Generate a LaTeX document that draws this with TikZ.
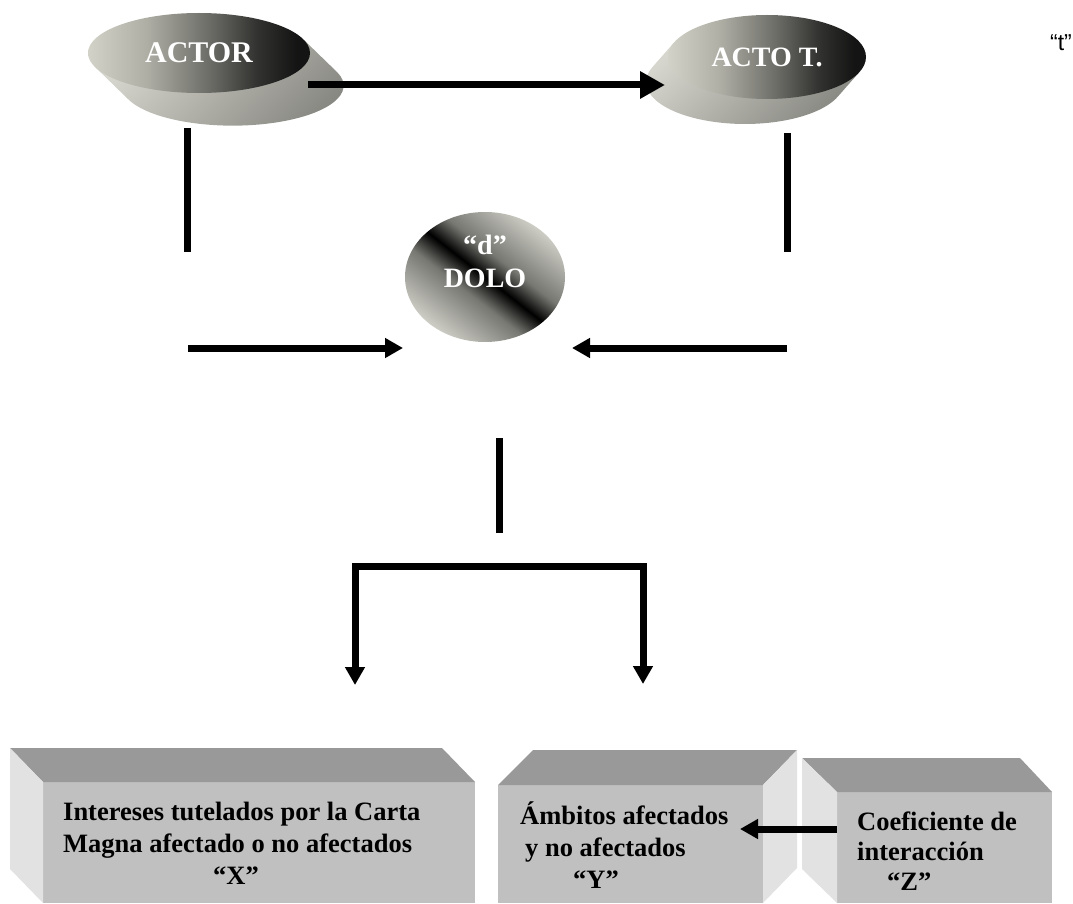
\documentclass[tikz,border=0pt]{standalone}
\usepackage{fontspec}
\setmainfont{Liberation Serif}
\newfontfamily\arialfont{Liberation Sans}
\usetikzlibrary{shapes.geometric,arrows.meta,backgrounds}

\definecolor{blobA}{RGB}{210,210,200}
\definecolor{blobB}{RGB}{175,175,166}
\definecolor{blobC}{RGB}{110,110,105}
\definecolor{blobD}{RGB}{50,50,48}
\definecolor{blobE}{RGB}{20,20,20}
\definecolor{sideLight}{RGB}{214,214,206}
\definecolor{sideDark}{RGB}{135,135,129}
\definecolor{doloLight}{RGB}{222,222,214}
\definecolor{doloMid}{RGB}{120,120,115}
\definecolor{topgray}{RGB}{153,153,153}
\definecolor{frontgray}{RGB}{192,192,192}
\definecolor{sidegray}{RGB}{226,226,226}

\pgfdeclarehorizontalshading{blobshade}{100bp}{color(0bp)=(blobA); color(25bp)=(blobA);
  color(38bp)=(blobB); color(52bp)=(blobC); color(63bp)=(blobD); color(72bp)=(blobE); color(100bp)=(blobE)}
\pgfdeclarehorizontalshading{doloshade}{100bp}{color(0bp)=(doloLight); color(22bp)=(doloLight);
  color(42bp)=(doloMid); color(50bp)=(black); color(58bp)=(doloMid); color(78bp)=(doloLight); color(100bp)=(doloLight)}

\begin{document}
\begin{tikzpicture}[x=1pt, y=-1pt]
  \tikzstyle{blob} = [ellipse, inner sep=0, outer sep=0, shading=blobshade, text=white,
                      font=\bfseries\fontsize{30}{36}\selectfont]
  \tikzstyle{blobgeom} = [ellipse, inner sep=0, outer sep=0]
  \tikzstyle{blobside} = [top color=sideLight, bottom color=sideDark, shading angle=45]
  \tikzstyle{dolo} = [ellipse, inner sep=0, outer sep=0, minimum width=160pt, minimum height=130pt,
                      shading=doloshade, shading angle=52]
  \tikzstyle{arrowline} = [line width=7pt, -{Triangle[length=18pt,width=19pt]}]
  \tikzstyle{plainline} = [line width=7pt]
  \tikzstyle{front} = [rectangle, fill=frontgray, inner sep=0, outer sep=0]
  \tikzstyle{topface} = [fill=topgray]
  \tikzstyle{sideface} = [fill=sidegray]
  \tikzstyle{boxtext} = [align=left, anchor=west, inner sep=0, font=\bfseries\fontsize{26.5}{32}\selectfont]

\useasboundingbox (0,0) rectangle (1073,904);

% actor and acto
\node[blob, minimum width=222pt, minimum height=80pt] (actor) at (199,53) {ACTOR};
\node[blobgeom, minimum width=222pt, minimum height=80pt] (actorb) at (232,85) {};
\node[blob, minimum width=198pt, minimum height=84pt, font=\bfseries\fontsize{28}{34}\selectfont] (acto) at (767,57) {ACTO T.};
\node[blobgeom, minimum width=198pt, minimum height=84pt] (actob) at (745,82) {};
\begin{pgfonlayer}{background}
\shade[blobside] (actor.7.4) -- (actorb.7.4) arc[start angle=19.8, end angle=-160.2, x radius=111pt, y radius=40pt]
  -- (actor.187.4) -- cycle;
\shade[blobside] (acto.-9) -- (actob.-9) arc[start angle=-20.5, end angle=-200.5, x radius=99pt, y radius=42pt]
  -- (acto.171) -- cycle;
\end{pgfonlayer}

% dolo
\node[dolo] (dolo) at (485,277) {};
\node[text=white, align=center, font=\bfseries\fontsize{28}{33}\selectfont] (dolotext) at (485,261) {“d”\\DOLO};
\node[font=\arialfont\fontsize{23}{26}\selectfont] (tmark) at (1061,43) {“t”};

% connectors
\coordinate (a1) at (308,85);
\coordinate (a2) at (665,85);
\coordinate (l1) at (187,128);
\coordinate (l2) at (187,252);
\coordinate (r1) at (787,133);
\coordinate (r2) at (787,252);
\coordinate (h1) at (188,348);
\coordinate (h2) at (403,348);
\coordinate (k1) at (787,348);
\coordinate (k2) at (572,348);
\coordinate (c1) at (499,438);
\coordinate (c2) at (499,533);
\coordinate (fork) at (499,566);
\coordinate (xin) at (355,685);
\coordinate (yin) at (643,684);
\draw[arrowline, -{Triangle[length=25pt,width=26pt]}] (a1) -- (a2);
\draw[plainline] (l1) -- (l2);
\draw[plainline] (r1) -- (r2);
\draw[arrowline] (h1) -- (h2);
\draw[arrowline] (k1) -- (k2);
\draw[plainline] (c1) -- (c2);
\draw[arrowline] (fork) -| (xin);
\draw[arrowline] (fork) -| (yin);

% boxes
\node[front, minimum width=432pt, minimum height=121pt] (xface) at (259,842.5) {};
\fill[topface] (xface.north west) -- ++(-33,-34) -- ++(432,0) -- (xface.north east) -- cycle;
\fill[sideface] (xface.north west) -- ++(-33,-34) -- ++(0,121) -- (xface.south west) -- cycle;
\node[front, minimum width=265pt, minimum height=118pt] (yface) at (630.5,844) {};
\fill[topface] (yface.north west) -- ++(35,-35) -- ++(264,0) -- (yface.north east) -- cycle;
\fill[sideface] (yface.north east) -- ++(34,-35) -- ++(0,118) -- (yface.south east) -- cycle;
\node[front, minimum width=215pt, minimum height=111pt] (zface) at (944.5,847.5) {};
\fill[topface] (zface.north west) -- ++(-35,-34) -- ++(218,0) -- (zface.north east) -- cycle;
\fill[sideface] (zface.north west) -- ++(-35,-34) -- ++(0,111) -- (zface.south west) -- cycle;

\node[boxtext] (xtext) at (63,843) {Intereses tutelados por la Carta\\Magna afectado o no afectados\\\hspace{150pt}“X”};
\node[boxtext] (ytext) at (520,845) {Ámbitos afectados\\\hspace{5pt}y no afectados\\\hspace{53pt}“Y”};
\node[boxtext, font=\bfseries\fontsize{26.5}{30}\selectfont] (ztext) at (857,851) {Coeficiente de\\interacción\\\hspace{30pt}“Z”};

\coordinate (zout) at (837,829);
\coordinate (yend) at (740,829);
\draw[arrowline] (zout) -- (yend);
\end{tikzpicture}
\end{document}
